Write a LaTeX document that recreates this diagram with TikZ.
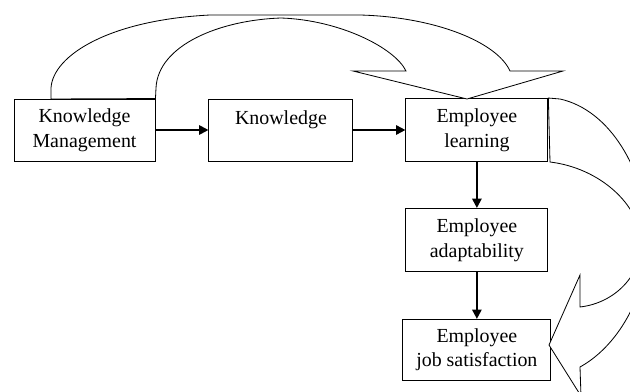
\documentclass[tikz,border=0pt]{standalone}
\usepackage{fontspec}
\setmainfont{Liberation Serif}
\usetikzlibrary{positioning, arrows.meta}

\begin{document}
\begin{tikzpicture}[
        x=0.03cm, y=-0.03cm,
        box/.style={rectangle, draw, line width=0.8pt, align=center, inner sep=0pt,
          minimum width=4.26cm, minimum height=1.86cm,
          font=\fontsize{17}{21}\selectfont},
        flow/.style={line width=1.6pt, -{Triangle[length=8pt, width=8pt]}},
        bigarrow/.style={draw, line width=0.7pt, fill=white},
      ]
        \useasboundingbox[fill=white] (0,0) rectangle (630,392);
        \clip (0,0) rectangle (630,392);

        \node[box, minimum width=4.23cm] (km) at (84.5,130) {Knowledge\\Management};
        \node[box, minimum width=4.32cm] (know) [right=1.59cm of km] {Knowledge\\~};
        \node[box, minimum height=1.89cm] (learn) [right=1.56cm of know] {Employee\\learning};
        \node[box, minimum height=1.89cm] (adapt) [below=1.38cm of learn] {Employee\\adaptability};
        \node[box, minimum width=4.44cm, minimum height=1.83cm] (satis) [below=1.41cm of adapt] {Employee\\job satisfaction};

        \draw[flow] (km)    -- (know);
        \draw[flow] (know)  -- (learn);
        \draw[flow] (learn) -- (adapt);
        \draw[flow] (adapt) -- (satis);

        % curved block arrow over the top
        \draw[bigarrow] (51,99) -- (51,88)
          .. controls (53,55) and (110,20) .. (210,15) -- (360,15)
          .. controls (435,17) and (497,42) .. (510,71) -- (563,71)
          -- (467,99) -- (353,71) -- (406,71)
          .. controls (395,48) and (340,20) .. (281,18)
          .. controls (220,20) and (158,45) .. (156,88) -- (km.north east) -- cycle;

        % curved block arrow down the right side
        \draw[bigarrow] (learn.north east) -- (560,99)
          .. controls (610,110) and (645,170) .. (648,233)
          .. controls (650,290) and (620,345) .. (580,367)
          -- (581,396) -- (549,345) -- (580,275) -- (580,307)
          .. controls (615,303) and (642,275) .. (641,242)
          .. controls (640,205) and (600,168) .. (550,162) -- cycle;
      \end{tikzpicture}
\end{document}
